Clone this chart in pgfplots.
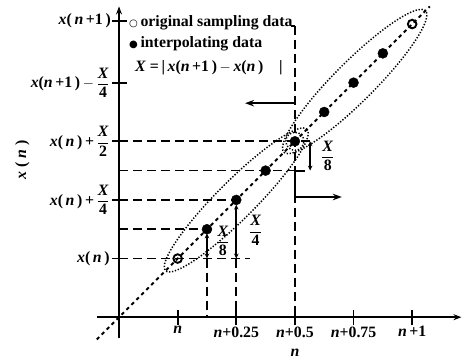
\documentclass[border=0pt]{standalone}
\usepackage{pgfplots}
\pgfplotsset{compat=1.18}
\usepackage{fontspec}
\setmainfont{Liberation Serif}
\newfontfamily\dejavu{DejaVu Sans}
\usetikzlibrary{arrows.meta}
\newcommand{\fr}[2]{$\displaystyle\frac{\mbox{\bfseries\itshape #1}}{\mbox{\bfseries #2}}$}
\begin{document}
\begin{tikzpicture}[font=\fontsize{15.8}{18}\selectfont\bfseries]
\begin{axis}[
  x=58.6pt, y=58.6pt,
  xmin=-2.03, xmax=5.85, ymin=-0.72, ymax=5.41,
  hide axis, clip=false, unbounded coords=jump,
]
\coordinate (SW) at (rel axis cs:0,0);
\coordinate (NE) at (rel axis cs:1,1);
% axes
\addplot[black, line width=2pt, -{Stealth[length=8pt,width=6pt]}] coordinates {(-0.375,0) (5.84,0)};
\addplot[black, line width=2pt, -{Stealth[length=8pt,width=6pt]}] coordinates {(0,-0.36) (0,5.30)};
% ticks
\addplot[black, line width=1.7pt] coordinates {(1,-0.14) (1,0.12) (nan,nan) (2,-0.14) (2,0.12) (nan,nan) (3,-0.14) (3,0.12) (nan,nan) (4,-0.14) (4,0.12) (nan,nan) (5,-0.14) (5,0.12)};
\addplot[black, line width=1.7pt] coordinates {(-0.12,1) (0.13,1) (nan,nan) (-0.12,2) (0.13,2) (nan,nan) (-0.12,3) (0.13,3) (nan,nan) (-0.12,4) (0.13,4) (nan,nan) (-0.12,5.05) (0.13,5.05)};
% diagonal
\addplot[black, line width=1.9pt, dash pattern=on 3.5pt off 3.5pt] coordinates {(-0.38,-0.38) (5.3,5.3)};
% dashed guides
\addplot[black, line width=1.7pt, dash pattern=on 9pt off 5pt] coordinates {(0,1) (2.24,1) (nan,nan) (0,1.5) (1.5,1.5) (nan,nan) (0,2) (2,2) (nan,nan) (0,2.5) (3,2.5) (nan,nan) (0,3) (3.26,3)};
\addplot[black, line width=1.7pt, dash pattern=on 9pt off 5pt] coordinates {(1.5,1) (1.5,0) (nan,nan) (2,1) (2,0) (nan,nan) (3,4.97) (3,0)};
% brackets and arrows
\addplot[black, line width=1.7pt] coordinates {(2.93,4.97) (3.0,4.97)};
\addplot[black, line width=1.8pt, -{Stealth[length=9pt,width=6.5pt]}] coordinates {(3,3.74) (3,3.65) (2.15,3.65)};
\addplot[black, line width=1.8pt, -{Stealth[length=9pt,width=6.5pt]}] coordinates {(3.17,2.5) (3,2.5) (3,2.05) (3.8,2.05)};
\addplot[black, line width=1.7pt, {Stealth[length=5pt,width=4.5pt]}-{Stealth[length=5pt,width=4.5pt]}] coordinates {(1.5,1) (1.5,1.43)};
\addplot[black, line width=1.7pt, {Stealth[length=5pt,width=4.5pt]}-{Stealth[length=5pt,width=4.5pt]}] coordinates {(2,1) (2,1.92)};
\addplot[black, line width=1.7pt, {Stealth[length=5pt,width=4.5pt]}-{Stealth[length=5pt,width=4.5pt]}] coordinates {(3.26,2.5) (3.26,3)};
% ellipses
\draw[black, line width=1.5pt, dash pattern=on 1.3pt off 1.7pt, rotate around={45:(axis cs:2,2)}] (axis cs:2,2) ellipse [x radius=100pt, y radius=19pt];
\draw[black, line width=1.5pt, dash pattern=on 1.3pt off 1.7pt, rotate around={45:(axis cs:4.02,4.02)}] (axis cs:4.02,4.02) ellipse [x radius=100pt, y radius=20pt];
% points
\addplot[only marks, mark=*, mark size=5pt, black] coordinates {(1.5,1.5) (2,2) (2.5,2.5) (3,3) (3.5,3.5) (4,4) (4.5,4.5)};
\addplot[only marks, mark=o, mark size=4.3pt, black, mark options={line width=1.9pt, fill=white}] coordinates {(1,1) (5,5)};
\addplot[only marks, mark=o, mark size=9pt, black, mark options={line width=1.5pt, dash pattern=on 1.3pt off 1.7pt}] coordinates {(3,3)};
% tick labels
\node[anchor=north, inner sep=1.5pt] at (axis cs:1,-0.13) {\textit{n}};
\node[anchor=north, inner sep=1.5pt] at (axis cs:2,-0.13) {\textit{n}+0.25};
\node[anchor=north, inner sep=1.5pt] at (axis cs:3,-0.13) {\textit{n}+0.5};
\node[anchor=north, inner sep=1.5pt] at (axis cs:4,-0.13) {\textit{n}+0.75};
\node[anchor=north, inner sep=1.5pt] at (axis cs:5,-0.13) {\textit{n}\,+1};
\node[inner sep=1pt] at (axis cs:3,-0.61) {\textit{n}};
\node[anchor=east, inner sep=1pt] at (axis cs:-0.12,5.05) {\textit{x}(\,\textit{n}\,+1\,)};
\node[anchor=east, inner sep=1pt] at (axis cs:-0.14,4) {\textit{x}(\textit{n}\,+1\,)\,$-$\,\fr{X}{4}};
\node[anchor=east, inner sep=1pt] at (axis cs:-0.14,3) {\textit{x}(\,\textit{n}\,)\,+\,\fr{X}{2}};
\node[anchor=east, inner sep=1pt] at (axis cs:-0.14,2) {\textit{x}(\,\textit{n}\,)\,+\,\fr{X}{4}};
\node[anchor=east, inner sep=1pt] at (axis cs:-0.14,1) {\textit{x}(\,\textit{n}\,)};
\node[rotate=90] at (axis cs:-1.65,2.68) {\textit{x}\ (\ \textit{n}\ )};
% fraction labels
\node at (axis cs:1.77,1.30) {\fr{X}{8}};
\node at (axis cs:2.33,1.48) {\fr{X}{4}};
\node at (axis cs:3.56,2.75) {\fr{X}{8}};
% legend text
\node[anchor=west, inner sep=0pt] at (axis cs:0.17,5.03) {{\dejavu\fontsize{10}{12}\selectfont ○}\,original sampling data};
\node[anchor=west, inner sep=0pt] at (axis cs:0.17,4.66) {{\dejavu\fontsize{10}{12}\selectfont ●}\,interpolating data};
\node[anchor=west, inner sep=0pt] at (axis cs:0.27,4.25) {\textit{X} =\,|\,\textit{x}(\textit{n}\,+1\,)\,$-$\,\textit{x}(\textit{n}\,)\quad|};
\end{axis}
\pgfresetboundingbox
\path[use as bounding box] (SW) rectangle (NE);
\end{tikzpicture}
\end{document}
